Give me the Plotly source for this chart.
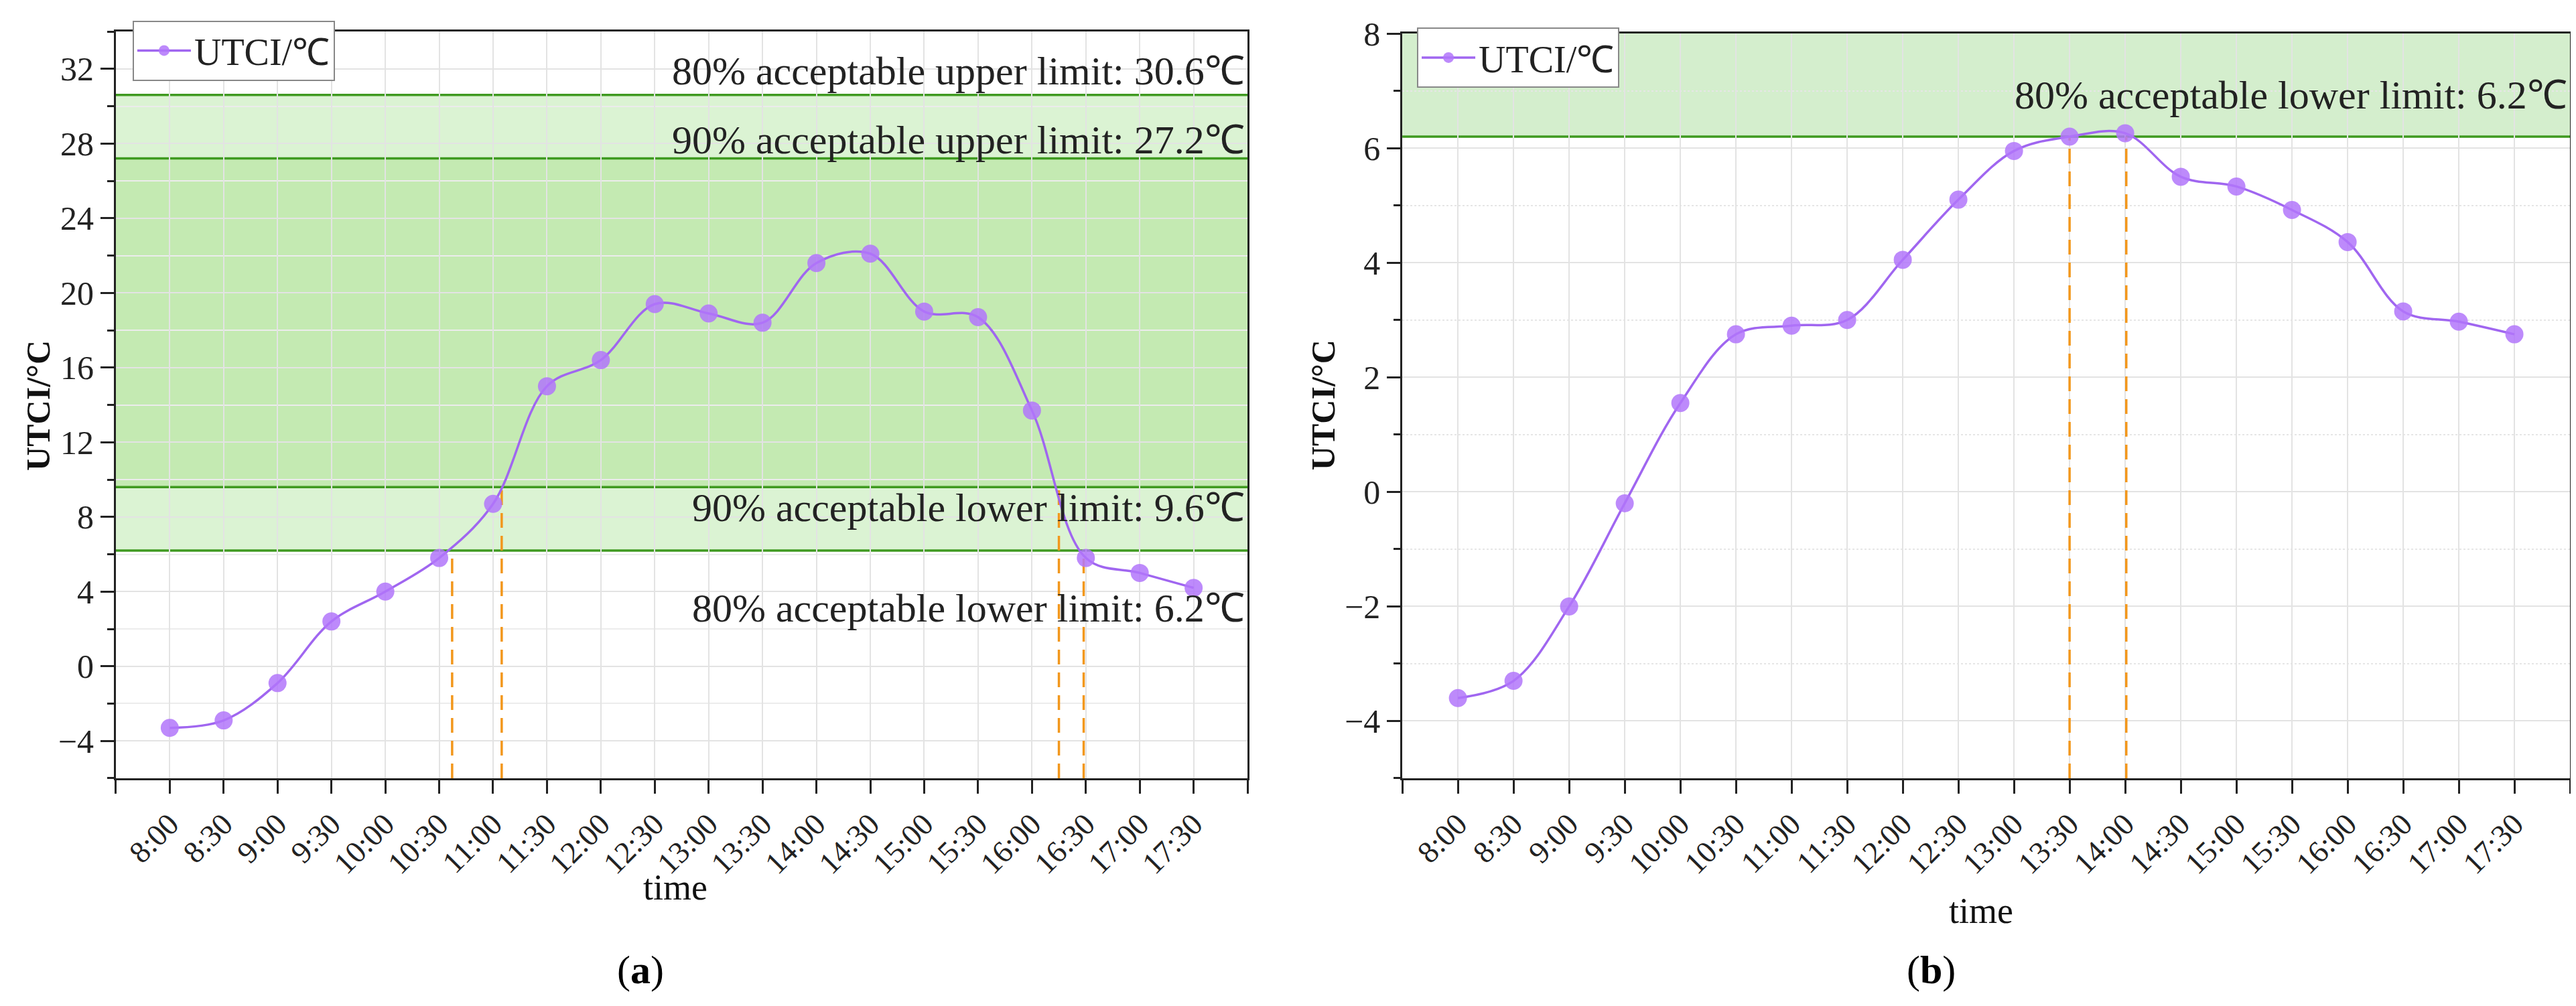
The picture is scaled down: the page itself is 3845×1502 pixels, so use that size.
import plotly.graph_objects as go

# time steps on the x axis
times = ["8:00", "8:30", "9:00", "9:30", "10:00", "10:30", "11:00", "11:30", "12:00", "12:30",
         "13:00", "13:30", "14:00", "14:30", "15:00", "15:30", "16:00", "16:30", "17:00", "17:30"]

# UTCI values
utci_a = [-3.3, -2.9, -0.9, 2.4, 4.0, 5.8, 8.7, 15.0, 16.4, 19.4,
          18.9, 18.4, 21.6, 22.1, 19.0, 18.7, 13.7, 5.8, 5.0, 4.2]
utci_b = [-3.6, -3.3, -2.0, -0.2, 1.55, 2.75, 2.9, 3.0, 4.05, 5.1,
          5.95, 6.2, 6.26, 5.5, 5.33, 4.92, 4.36, 3.15, 2.97, 2.75]

# acceptable limits
limits_a = [30.6, 27.2, 9.6, 6.2]
limit_text_a = ["80% acceptable upper limit: 30.6℃",
                "90% acceptable upper limit: 27.2℃",
                "90% acceptable lower limit: 9.6℃",
                "80% acceptable lower limit: 6.2℃"]
limits_b = [6.2]
limit_text_b = ["80% acceptable lower limit: 6.2℃"]

# where the curve crosses the limits (x in time-step units)
cross_a_x = [5.24, 6.16, 16.5, 16.96]
cross_a_y = [6.2, 9.6, 9.6, 6.2]
cross_b_x = [11.0, 12.02]
cross_b_y = [6.2, 6.2]

serif = "Liberation Serif"
purple_line = "#a066f0"
purple_mark = "rgba(178,118,250,0.85)"
green_line = "#3f9a20"
light_green = "#dbf3d3"
mid_green = "#c4eab2"
orange = "#f2971c"
grid = "#e3e3e3"

idx = list(range(len(times)))
tickvals = [-1] + idx + [len(times)]
ticktext = [""] + times + [""]

fig = go.Figure()

# dashed drop lines
for cx, cy in zip(cross_a_x, cross_a_y):
    fig.add_trace(go.Scatter(x=[cx, cx], y=[-6, cy], mode="lines", showlegend=False,
                             line=dict(color=orange, width=3.5, dash="22px,12px"),
                             hoverinfo="skip", xaxis="x", yaxis="y"))
for cx, cy in zip(cross_b_x, cross_b_y):
    fig.add_trace(go.Scatter(x=[cx, cx], y=[-5, cy], mode="lines", showlegend=False,
                             line=dict(color=orange, width=3.5, dash="22px,12px"),
                             hoverinfo="skip", xaxis="x2", yaxis="y2"))

fig.add_trace(go.Scatter(x=idx, y=utci_a, name="UTCI/℃", mode="lines+markers",
                         line=dict(color=purple_line, width=3.5, shape="spline"),
                         marker=dict(color=purple_mark, size=27),
                         xaxis="x", yaxis="y", legend="legend"))
fig.add_trace(go.Scatter(x=idx, y=utci_b, name="UTCI/℃", mode="lines+markers",
                         line=dict(color=purple_line, width=3.5, shape="spline"),
                         marker=dict(color=purple_mark, size=27),
                         xaxis="x2", yaxis="y2", legend="legend2"))

shapes = []
# bands for panel a
bands_a = [(limits_a[1], limits_a[0], light_green),
           (limits_a[2], limits_a[1], mid_green),
           (limits_a[3], limits_a[2], light_green)]
for y0, y1, col in bands_a:
    shapes.append(dict(type="rect", xref="x domain", yref="y", x0=0, x1=1, y0=y0, y1=y1,
                       fillcolor=col, line=dict(width=0), layer="below"))
for v in limits_a:
    shapes.append(dict(type="line", xref="x domain", yref="y", x0=0, x1=1, y0=v, y1=v,
                       line=dict(color=green_line, width=3.5), layer="below"))
# band for panel b
shapes.append(dict(type="rect", xref="x2 domain", yref="y2", x0=0, x1=1, y0=limits_b[0], y1=8,
                   fillcolor="#d4eecd", line=dict(width=0), layer="below"))
for v in limits_b:
    shapes.append(dict(type="line", xref="x2 domain", yref="y2", x0=0, x1=1, y0=v, y1=v,
                       line=dict(color=green_line, width=3.5), layer="below"))

annotations = []
text_y_a = [31.9, 28.2, 8.5, 3.1]
for t, ty in zip(limit_text_a, text_y_a):
    annotations.append(dict(text=t, xref="x domain", yref="y", x=1, y=ty, xanchor="right",
                            yanchor="middle", showarrow=False, xshift=-2,
                            font=dict(family=serif, size=60, color="#222")))
for t in limit_text_b:
    annotations.append(dict(text=t, xref="x2 domain", yref="y2", x=1, y=6.92, xanchor="right",
                            yanchor="middle", showarrow=False, xshift=-2,
                            font=dict(family=serif, size=60, color="#222")))

# axis titles and panel letters
for x, y, t, ang, sz in [(0.0127, 0.6025, "<b>UTCI/°C</b>", -90, 50),
                         (0.5116, 0.6025, "<b>UTCI/°C</b>", -90, 50),
                         (0.26, 0.1232, "time", 0, 54), (0.767, 0.0999, "time", 0, 54)]:
    annotations.append(dict(text=t, xref="paper", yref="paper", x=x, y=y, xanchor="center",
                            yanchor="middle", showarrow=False, textangle=ang,
                            font=dict(family=serif, size=sz, color="#111")))
for x, t in [(0.2466, "(<b>a</b>)"), (0.7477, "(<b>b</b>)")]:
    annotations.append(dict(text=t, xref="paper", yref="paper", x=x, y=0.0413, xanchor="center",
                            yanchor="middle", showarrow=False,
                            font=dict(family=serif, size=60, color="#000")))

xcommon = dict(range=[-1, len(times)], tickmode="array", tickvals=tickvals, ticktext=ticktext,
               tickangle=-45, ticks="outside", ticklen=20, tickwidth=3, tickcolor="#222",
               showline=True, linecolor="#222", linewidth=3, mirror=True, automargin=False,
               showgrid=True, gridcolor=grid, gridwidth=2, zeroline=False,
               tickfont=dict(family=serif, size=46, color="#222"))
ycommon = dict(ticks="outside", ticklen=20, tickwidth=3, tickcolor="#222",
               showline=True, linecolor="#222", linewidth=3, mirror=True, automargin=False,
               showgrid=True, gridcolor=grid, gridwidth=2, zeroline=False,
               tickfont=dict(family=serif, size=50, color="#222"))

fig.update_layout(
    width=3845, height=1502,
    margin=dict(l=0, r=0, t=0, b=0, autoexpand=False),
    paper_bgcolor="white", plot_bgcolor="white",
    xaxis=dict(domain=[0.0429, 0.4822], anchor="y", **xcommon),
    yaxis=dict(domain=[0.2317, 0.974], anchor="x", range=[-6, 34], tickvals=list(range(-4, 33, 4)),
               minor=dict(tickvals=list(range(-6, 35, 2)), ticks="outside", ticklen=10,
                          tickwidth=3, tickcolor="#222", showgrid=True, gridcolor="#ececec",
                          gridwidth=2),
               **ycommon),
    xaxis2=dict(domain=[0.5423, 0.9956], anchor="y2", **xcommon),
    yaxis2=dict(domain=[0.2317, 0.972], anchor="x2", range=[-5, 8], tickvals=list(range(-4, 9, 2)),
                minor=dict(tickvals=list(range(-5, 8, 2)), ticks="outside", ticklen=10,
                           tickwidth=3, tickcolor="#222", showgrid=True, gridcolor="#e6e6e6",
                           gridwidth=2, griddash="dot"),
                **ycommon),
    legend=dict(x=0.0494, y=0.985, xanchor="left", yanchor="top", bgcolor="white",
                bordercolor="#888", borderwidth=2, itemwidth=80,
                font=dict(family=serif, size=56, color="#222")),
    legend2=dict(x=0.548, y=0.978, xanchor="left", yanchor="top", bgcolor="white",
                 bordercolor="#888", borderwidth=2, itemwidth=80,
                 font=dict(family=serif, size=56, color="#222")),
    shapes=shapes,
    annotations=annotations,
)

fig.write_html("out.html")
